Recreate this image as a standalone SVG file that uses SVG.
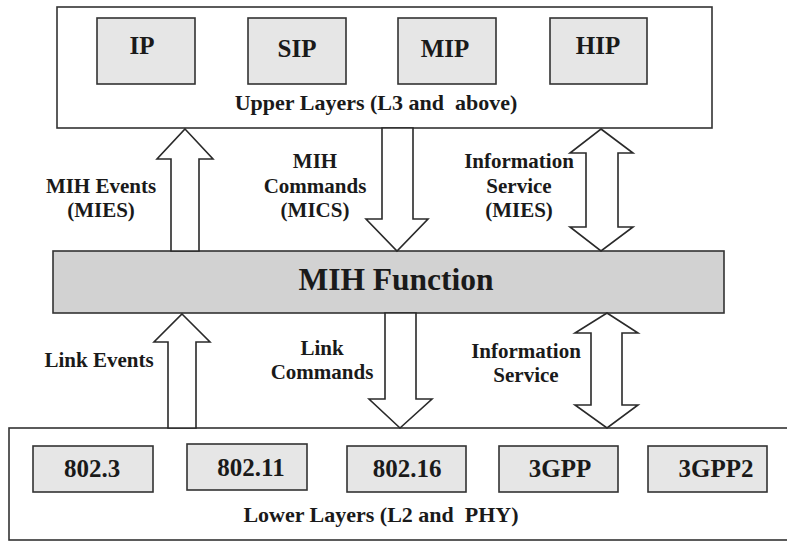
<svg xmlns="http://www.w3.org/2000/svg" width="787" height="541" viewBox="0 0 787 541">
  <style>
    text { font-family: "Liberation Serif", "Times New Roman", serif; font-weight: bold; fill: #1a1a1a; text-anchor: middle; }
    .layer { fill: #ffffff; stroke: #333333; stroke-width: 1.6; }
    .proto { fill: #e6e6e6; stroke: #333333; stroke-width: 1.6; }
    .func { fill: #d2d2d2; stroke: #333333; stroke-width: 1.6; }
    .arrow { fill: #ffffff; stroke: #2a2a2a; stroke-width: 1.6; stroke-linejoin: miter; }
    .proto-label { font-size: 25px; }
    .layer-label { font-size: 22px; white-space: pre; }
    .flow-label { font-size: 21px; }
  </style>
  <rect width="787" height="541" fill="#ffffff"/>

  <!-- Upper layers -->
  <g id="upper-layers">
    <rect class="layer" x="57" y="7" width="655" height="121"/>
    <text class="layer-label" x="376" y="110" xml:space="preserve">Upper Layers (L3 and  above)</text>
  </g>
  <g id="ip"><rect class="proto" x="97" y="18" width="98" height="66"/><text class="proto-label" x="142" y="54">IP</text></g>
  <g id="sip"><rect class="proto" x="248" y="18" width="98" height="66"/><text class="proto-label" x="297" y="57">SIP</text></g>
  <g id="mip"><rect class="proto" x="398" y="18" width="98" height="66"/><text class="proto-label" x="445" y="57">MIP</text></g>
  <g id="hip"><rect class="proto" x="550" y="18" width="97" height="66"/><text class="proto-label" x="598" y="54">HIP</text></g>

  <!-- MIH Function -->
  <g id="mih-function">
    <rect class="func" x="53" y="251" width="671" height="62"/>
    <text x="396" y="290" font-size="31.5">MIH Function</text>
  </g>

  <!-- Lower layers -->
  <g id="lower-layers">
    <rect class="layer" x="9" y="428" width="800" height="112"/>
    <text class="layer-label" x="381" y="522" xml:space="preserve">Lower Layers (L2 and  PHY)</text>
  </g>
  <g id="ieee8023"><rect class="proto" x="33" y="446" width="120" height="46"/><text class="proto-label" x="92" y="477">802.3</text></g>
  <g id="ieee80211"><rect class="proto" x="187" y="444" width="120" height="46"/><text class="proto-label" x="251" y="476">802.11</text></g>
  <g id="ieee80216"><rect class="proto" x="347" y="446" width="119" height="46"/><text class="proto-label" x="407" y="477">802.16</text></g>
  <g id="gpp3"><rect class="proto" x="499" y="446" width="119" height="46"/><text class="proto-label" x="560" y="477">3GPP</text></g>
  <g id="gpp3-2"><rect class="proto" x="648" y="446" width="119" height="46"/><text class="proto-label" x="716" y="477">3GPP2</text></g>

  <!-- Block arrows between layers -->
  <g id="connectors">
    <polygon class="arrow" points="185,129 213,159 199,159 199,251 171,251 171,159 157,159"/>
    <polygon class="arrow" points="382,128 413,128 413,219 428,219 397,251 366,219 382,219"/>
    <polygon class="arrow" points="601,129 633,153 618,153 618,227 633,227 601,251 570,227 586,227 586,153 570,153"/>
    <polygon class="arrow" points="182,314 210,342 196,342 196,428 168,428 168,342 154,342"/>
    <polygon class="arrow" points="385,313 416,313 416,399 432,399 400,428 369,399 385,399"/>
    <polygon class="arrow" points="607,313 638,333 622,333 622,405 638,405 607,428 575,405 591,405 591,333 575,333"/>
  </g>

  <!-- Connector labels -->
  <g id="labels">
    <text class="flow-label" x="101" y="193">MIH Events</text>
    <text class="flow-label" x="101" y="217">(MIES)</text>
    <text class="flow-label" x="315" y="168">MIH</text>
    <text class="flow-label" x="315" y="193">Commands</text>
    <text class="flow-label" x="315" y="217">(MICS)</text>
    <text class="flow-label" x="519" y="168">Information</text>
    <text class="flow-label" x="519" y="193">Service</text>
    <text class="flow-label" x="519" y="217">(MIES)</text>
    <text class="flow-label" x="99" y="367">Link Events</text>
    <text class="flow-label" x="322" y="355">Link</text>
    <text class="flow-label" x="322" y="379">Commands</text>
    <text class="flow-label" x="526" y="358">Information</text>
    <text class="flow-label" x="526" y="382">Service</text>
  </g>
</svg>
